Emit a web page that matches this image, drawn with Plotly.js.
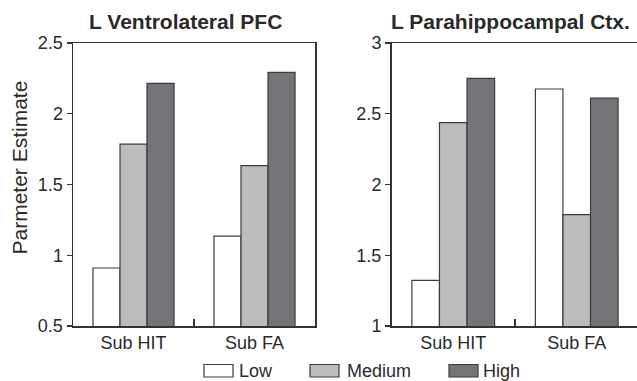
<!DOCTYPE html>
<html>
<head>
<meta charset="utf-8">
<script src="https://cdn.plot.ly/plotly-3.0.1.min.js"></script>
<style>html,body{margin:0;padding:0;background:#fff;}#chart{width:637px;height:381px;}</style>
</head>
<body>
<div id="chart"></div>
<script>
const categories = ['Sub HIT', 'Sub FA'];
const seriesNames = ['Low', 'Medium', 'High'];
const panelTitles = ['L Ventrolateral PFC', 'L Parahippocampal Ctx.'];
const yAxisTitle = 'Parmeter Estimate';
const pfcLow = [0.91, 1.135];
const pfcMedium = [1.785, 1.633];
const pfcHigh = [2.215, 2.293];
const phcLow = [1.323, 2.675];
const phcMedium = [2.437, 1.787];
const phcHigh = [2.75, 2.61];
const pfcTicks = [0.5, 1, 1.5, 2, 2.5];
const phcTicks = [1, 1.5, 2, 2.5, 3];

const W = 637, H = 381;
const px = v => v / W;
const py = v => 1 - v / H;
const fills = ['#ffffff', '#bcbcbe', '#747478'];
const edge = '#3c3c3c';
const font = 'Liberation Sans, Arial, Helvetica, sans-serif';
const txt = '#2a2a2a';

const pfcSeries = [pfcLow, pfcMedium, pfcHigh];
const phcSeries = [phcLow, phcMedium, phcHigh];
const traces = [];
seriesNames.forEach((n, i) => {
  traces.push({type: 'bar', name: n, x: categories, y: pfcSeries[i], xaxis: 'x', yaxis: 'y',
    marker: {color: fills[i], line: {color: edge, width: 1.2}}, showlegend: false, hoverinfo: 'skip'});
  traces.push({type: 'bar', name: n, x: categories, y: phcSeries[i], xaxis: 'x2', yaxis: 'y2',
    marker: {color: fills[i], line: {color: edge, width: 1.2}}, showlegend: false, hoverinfo: 'skip'});
});

const axisCommon = {showline: true, linecolor: '#333', linewidth: 1.5, showgrid: false, zeroline: false,
  tickfont: {family: font, size: 18, color: txt}, tickcolor: '#333', tickwidth: 1.2};

const xCommon = Object.assign({}, axisCommon, {type: 'category', tickson: 'boundaries', ticks: 'inside', ticklen: 7, mirror: true});
const yCommon = Object.assign({}, axisCommon, {ticks: 'outside', ticklen: 5});

const annotations = [
  {text: '<b>' + panelTitles[0] + '</b>', x: px(185.5), y: py(21), xref: 'paper', yref: 'paper', showarrow: false,
    font: {family: font, size: 21, color: txt}, xanchor: 'center', yanchor: 'middle'},
  {text: '<b>' + panelTitles[1] + '</b>', x: px(510), y: py(21), xref: 'paper', yref: 'paper', showarrow: false,
    font: {family: font, size: 21, color: txt}, xanchor: 'center', yanchor: 'middle'},
  {text: yAxisTitle, x: px(18.5), y: py(168), xref: 'paper', yref: 'paper', showarrow: false, textangle: -90,
    font: {family: font, size: 21, color: txt}, xanchor: 'center', yanchor: 'middle'}
];
const shapes = [];
const legBoxX = [204, 310, 449];
const legTextX = [237, 345, 481];
seriesNames.forEach((n, i) => {
  shapes.push({type: 'rect', xref: 'paper', yref: 'paper', x0: px(legBoxX[i]), x1: px(legBoxX[i] + 29),
    y0: py(377), y1: py(364.5), fillcolor: fills[i], line: {color: edge, width: 1.2}});
  annotations.push({text: n, x: px(legTextX[i]), y: py(370.5), xref: 'paper', yref: 'paper', showarrow: false,
    font: {family: font, size: 18, color: txt}, xanchor: 'left', yanchor: 'middle'});
});

const layout = {
  width: W, height: H,
  margin: {l: 0, r: 0, t: 0, b: 0},
  paper_bgcolor: '#fff', plot_bgcolor: '#fff',
  barmode: 'group', bargap: 0.33, bargroupgap: 0,
  showlegend: false,
  xaxis: Object.assign({}, xCommon, {domain: [px(73), px(315)], range: [-0.5, 1.5], anchor: 'y'}),
  yaxis: Object.assign({}, yCommon, {domain: [py(326), py(43)], range: [0.5, 2.5], tickvals: pfcTicks, mirror: true, anchor: 'x'}),
  xaxis2: Object.assign({}, xCommon, {domain: [px(391.5), 1], range: [-0.5, 1.488], anchor: 'y2'}),
  yaxis2: Object.assign({}, yCommon, {domain: [py(326), py(43)], range: [1, 3], tickvals: phcTicks, mirror: false, anchor: 'x2'}),
  annotations: annotations,
  shapes: shapes
};

Plotly.newPlot('chart', traces, layout, {staticPlot: true, displayModeBar: false});
</script>
</body>
</html>
